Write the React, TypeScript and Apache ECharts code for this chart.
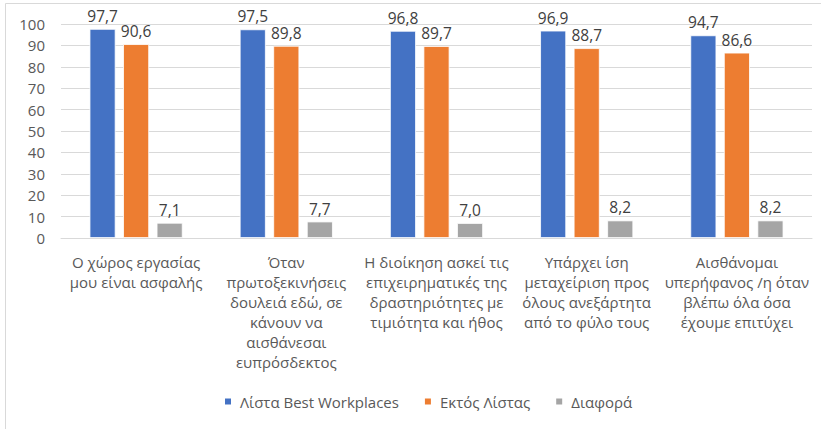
import React, { useEffect, useRef } from "react";
import * as echarts from "echarts";

const categories: string[] = [
  "Ο χώρος εργασίας\nμου είναι ασφαλής",
  "Όταν\nπρωτοξεκινήσεις\nδουλειά εδώ, σε\nκάνουν να\nαισθάνεσαι\nευπρόσδεκτος",
  "Η διοίκηση ασκεί τις\nεπιχειρηματικές της\nδραστηριότητες με\nτιμιότητα και ήθος",
  "Υπάρχει ίση\nμεταχείριση προς\nόλους ανεξάρτητα\nαπό το φύλο τους",
  "Αισθάνομαι\nυπερήφανος /η όταν\nβλέπω όλα όσα\nέχουμε επιτύχει",
];

const seriesNames: string[] = ["Λίστα Best Workplaces", "Εκτός Λίστας", "Διαφορά"];
const bestWorkplaces: number[] = [97.7, 97.5, 96.8, 96.9, 94.7];
const outsideList: number[] = [90.6, 89.8, 89.7, 88.7, 86.6];
const difference: number[] = [7.1, 7.7, 7.0, 8.2, 8.2];
const colors: string[] = ["#4472C4", "#ED7D31", "#A5A5A5"];

const FONT = "'Open Sans', sans-serif";

export default function App() {
  const ref = useRef<HTMLDivElement>(null);

  useEffect(() => {
    document.body.style.margin = "0";
    if (!ref.current) return;
    const chart = echarts.init(ref.current, undefined, { renderer: "svg" });
    const label = {
      show: true,
      position: "top" as const,
      distance: 5,
      color: "#404040",
      fontFamily: FONT,
      fontSize: 15.5,
      formatter: (p: any) => Number(p.value).toFixed(1).replace(".", ","),
    };
    const mk = (name: string, data: number[], color: string) => ({
      name,
      type: "bar",
      data,
      barWidth: 26,
      barGap: "29%",
      itemStyle: { color, borderColor: "#ffffff", borderWidth: 0.8 },
      label,
    });
    chart.setOption({
      animation: false,
      textStyle: { fontFamily: FONT },
      grid: { left: 61, right: 9, top: 24, bottom: 191, containLabel: false },
      legend: {
        data: seriesNames,
        bottom: 15,
        left: 218,
        itemWidth: 8,
        itemHeight: 8,
        itemGap: 24,
        icon: "rect",
        textStyle: { color: "#595959", fontFamily: FONT, fontSize: 15, padding: [0, 0, 0, 3] },
      },
      xAxis: {
        type: "category",
        data: categories,
        axisTick: { show: false },
        axisLine: { lineStyle: { color: "#d9d9d9", width: 1 } },
        axisLabel: {
          interval: 0,
          margin: 14,
          color: "#595959",
          fontFamily: FONT,
          fontSize: 15,
          lineHeight: 20,
          align: "center",
          verticalAlign: "top",
        },
      },
      yAxis: {
        type: "value",
        min: 0,
        max: 100,
        interval: 10,
        axisLine: { show: false },
        axisTick: { show: false },
        splitLine: { lineStyle: { color: "#d9d9d9", width: 1 } },
        axisLabel: { color: "#595959", fontFamily: FONT, fontSize: 15, margin: 16 },
      },
      series: [
        mk(seriesNames[0], bestWorkplaces, colors[0]),
        mk(seriesNames[1], outsideList, colors[1]),
        mk(seriesNames[2], difference, colors[2]),
      ],
      graphic: [
        {
          type: "line",
          shape: { x1: 5.5, y1: 3.5, x2: 821, y2: 3.5 },
          style: { stroke: "#d9d9d9", lineWidth: 1 },
          silent: true,
        },
        {
          type: "line",
          shape: { x1: 5.5, y1: 3.5, x2: 5.5, y2: 429 },
          style: { stroke: "#d9d9d9", lineWidth: 1 },
          silent: true,
        },
      ],
    });
    return () => chart.dispose();
  }, []);

  return <div ref={ref} style={{ width: 821, height: 429 }} />;
}
